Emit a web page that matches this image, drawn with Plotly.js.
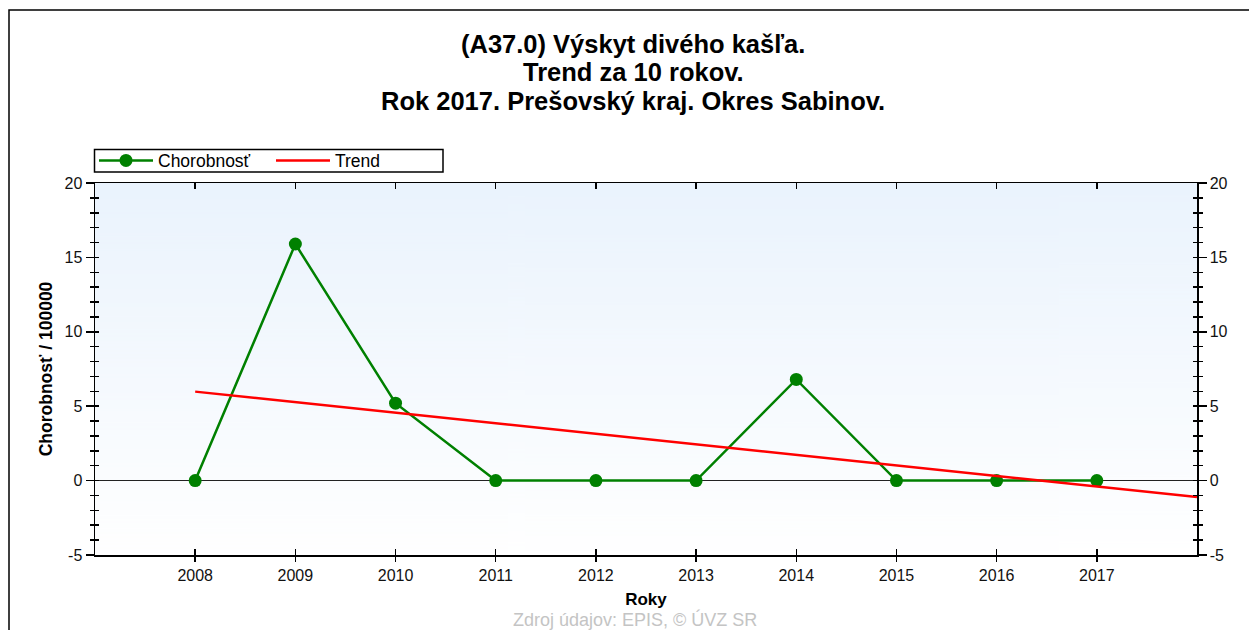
<!DOCTYPE html>
<html>
<head>
<meta charset="utf-8">
<script src="https://cdn.plot.ly/plotly-3.0.1.min.js"></script>
<style>html,body{margin:0;padding:0;background:#fff;}#chart{width:1249px;height:630px;}</style>
</head>
<body>
<div id="chart"></div>
<script>
// ---- data ----
const years = [2008, 2009, 2010, 2011, 2012, 2013, 2014, 2015, 2016, 2017];
const incidence = [0, 15.9, 5.2, 0, 0, 0, 6.8, 0, 0, 0];
const trendYears = [2008, 2018];
const trendValues = [5.98, -1.1];
const yTickVals = [-5, 0, 5, 10, 15, 20];
const yTickText = ['-5', '0', '5', '10', '15', '20'];
const titleLines = ["(A37.0) Výskyt divého kašľa.", "Trend za 10 rokov.", "Rok 2017. Prešovský kraj. Okres Sabinov."];
const seriesNames = ["Chorobnosť", "Trend"];
const yTitle = "Chorobnosť / 100000";
const xTitle = "Roky";
const sourceText = "Zdroj údajov: EPIS, © ÚVZ SR";

// gradient background image
const cv = document.createElement('canvas');
cv.width = 4; cv.height = 400;
const cx = cv.getContext('2d');
const g = cx.createLinearGradient(0, 0, 0, 400);
g.addColorStop(0, '#eaf3fd');
g.addColorStop(1, '#ffffff');
cx.fillStyle = g; cx.fillRect(0, 0, 4, 400);
const bgImg = cv.toDataURL();

const FONT = 'Liberation Sans, Arial, sans-serif';
const xRange = [2007, 2018];
const yRange = [-5, 20];

// pixel helpers for paper coordinates of the decorative layout (plot area 95..1197 x 183..555)
const px = v => (v - 95) / 1102;
const py = v => (555 - v) / 372;

const traces = [
  {x: years, y: incidence, name: seriesNames[0], type: 'scatter', mode: 'lines+markers',
   line: {color: '#008000', width: 2.5}, marker: {color: '#008000', size: 13}, xaxis: 'x', yaxis: 'y'},
  {x: trendYears, y: trendValues, name: seriesNames[1], type: 'scatter', mode: 'lines',
   line: {color: '#ff0000', width: 2.5}, xaxis: 'x', yaxis: 'y'},
  {x: [], y: [], xaxis: 'x2', yaxis: 'y2', showlegend: false, hoverinfo: 'skip'},
  {x: [], y: [], xaxis: 'x', yaxis: 'y3', showlegend: false, hoverinfo: 'skip'},
  {x: [], y: [], xaxis: 'x', yaxis: 'y4', showlegend: false, hoverinfo: 'skip'}
];

const baseY = {range: yRange, tickvals: yTickVals, ticktext: yTickText, showgrid: false, zeroline: false, fixedrange: true,
  tickcolor: '#000', tickwidth: 1.5, tickfont: {family: FONT, size: 16, color: '#111'}};

const titleAnn = titleLines.map((t, i) => ({
  text: '<b>' + t + '</b>', xref: 'paper', yref: 'paper', x: px(633), y: py([44, 72, 101][i]),
  xanchor: 'center', yanchor: 'middle', showarrow: false,
  font: {family: FONT, size: 25.5, color: '#000'}
}));

const layout = {
  width: 1249, height: 630,
  margin: {l: 95, r: 52, t: 183, b: 75, pad: 0},
  paper_bgcolor: '#ffffff', plot_bgcolor: 'rgba(0,0,0,0)',
  font: {family: FONT, color: '#000'},
  showlegend: true,
  legend: {orientation: 'h', x: px(94), xanchor: 'left', y: py(160.5), yanchor: 'middle',
           borderwidth: 0, bgcolor: 'rgba(0,0,0,0)', itemwidth: 54,
           font: {family: FONT, size: 17.5, color: '#000'}, entrywidth: 108, entrywidthmode: 'pixels'},
  xaxis: {range: xRange, tickvals: years, showticklabels: false, ticks: 'inside', ticklen: 6, tickwidth: 1.5,
          tickcolor: '#000', showline: true, linecolor: '#000', linewidth: 1.5, mirror: 'ticks',
          showgrid: false, zeroline: false, fixedrange: true},
  xaxis2: {overlaying: 'x', anchor: 'y', side: 'bottom', range: xRange, tickvals: years, ticks: 'outside', ticklen: 6,
           tickwidth: 1.5, tickcolor: '#000', showline: false, showgrid: false, zeroline: false, fixedrange: true,
           tickfont: {family: FONT, size: 16, color: '#111'},
           title: {text: '<b>' + xTitle + '</b>', font: {family: FONT, size: 17, color: '#000'}, standoff: 9}},
  yaxis: Object.assign({}, baseY, {side: 'left', ticks: 'outside', ticklen: 8, showline: true, linecolor: '#000', linewidth: 1.5,
          zeroline: true, zerolinecolor: '#222', zerolinewidth: 1.2,
          minor: {dtick: 1, ticks: 'outside', ticklen: 4, tickwidth: 1.5, tickcolor: '#000'},
          title: {text: '<b>' + yTitle + '</b>', font: {family: FONT, size: 17.5, color: '#000'}, standoff: 7}}),
  yaxis3: Object.assign({}, baseY, {overlaying: 'y', side: 'left', anchor: 'x', ticks: 'inside', ticklen: 4,
          showticklabels: false, showline: false,
          minor: {dtick: 1, ticks: 'inside', ticklen: 4, tickwidth: 1.5, tickcolor: '#000'}}),
  yaxis2: Object.assign({}, baseY, {overlaying: 'y', side: 'right', anchor: 'x', ticks: 'outside', ticklen: 8,
          showline: true, linecolor: '#000', linewidth: 1.5,
          minor: {dtick: 1, ticks: 'outside', ticklen: 4, tickwidth: 1.5, tickcolor: '#000'}}),
  yaxis4: Object.assign({}, baseY, {overlaying: 'y', side: 'right', anchor: 'x', ticks: 'inside', ticklen: 4,
          showticklabels: false, showline: false,
          minor: {dtick: 1, ticks: 'inside', ticklen: 4, tickwidth: 1.5, tickcolor: '#000'}}),
  images: [{source: bgImg, xref: 'paper', yref: 'paper', x: 0, y: 1, sizex: 1, sizey: 1,
            sizing: 'stretch', xanchor: 'left', yanchor: 'top', layer: 'below'}],
  shapes: [
    {type: 'path', xref: 'paper', yref: 'paper',
     path: 'M ' + px(9) + ',' + py(640) + ' L ' + px(9) + ',' + py(10) + ' L ' + px(1260) + ',' + py(10),
     line: {color: '#000', width: 1.5}},
    {type: 'rect', xref: 'paper', yref: 'paper', x0: px(94.5), x1: px(443), y0: py(172), y1: py(149.5),
     line: {color: '#000', width: 1.5}, fillcolor: '#ffffff', layer: 'below'}
  ],
  annotations: titleAnn.concat([{text: sourceText, xref: 'paper', yref: 'paper', x: px(635), y: py(619), xanchor: 'center', yanchor: 'middle',
                 showarrow: false, font: {family: FONT, size: 18, color: '#c4c4c4'}}])
};

Plotly.newPlot('chart', traces, layout, {staticPlot: true, displayModeBar: false});
</script>
</body>
</html>
